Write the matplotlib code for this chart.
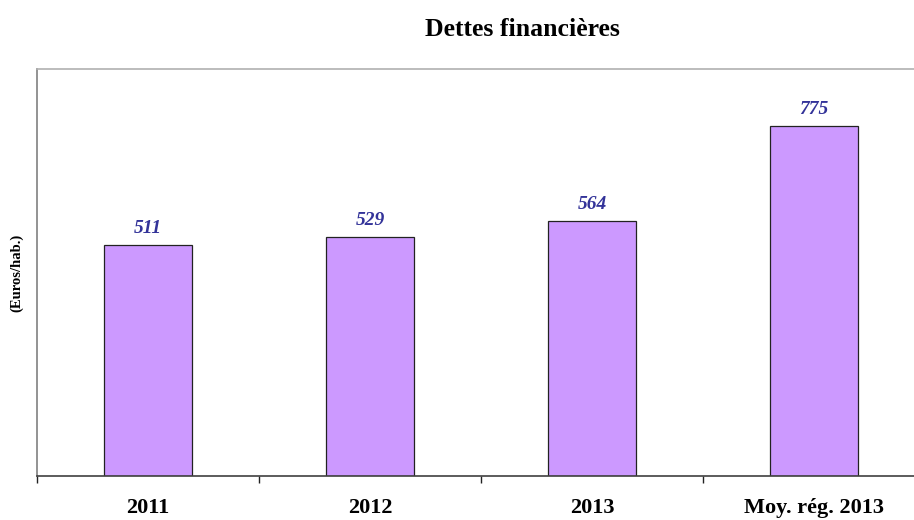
import matplotlib
matplotlib.use("Agg")
import matplotlib.pyplot as plt
import numpy as np

categories = ["2011", "2012", "2013", "Moy. rég. 2013"]
values = [511, 529, 564, 775]

serif = ["Liberation Serif", "DejaVu Serif"]

fig = plt.figure(figsize=(9.14, 5.2), dpi=100)
ax = fig.add_axes([37 / 914, 44 / 520, 888 / 914, 407 / 520])

x = np.arange(len(categories))
ax.bar(x, values, width=0.4, color="#CC99FF", edgecolor="#222222", linewidth=0.9, zorder=2)

for xi, v in zip(x, values):
    ax.text(xi, v + 17, f"{v}", ha="center", va="bottom", fontsize=14,
            fontweight="bold", fontstyle="italic", color="#333399", family=serif)

ax.set_xlim(-0.5, len(categories) - 0.5)
ax.set_ylim(0, 900)

ax.set_xticks(x)
ax.set_xticklabels(categories, fontsize=16, fontweight="bold", family=serif)
ax.set_xticks(np.arange(len(categories) + 1) - 0.5, minor=True)
ax.tick_params(axis="x", which="major", length=0, pad=16)
ax.tick_params(axis="x", which="minor", length=5, width=1, color="#222222", direction="out")
ax.set_yticks([])

ax.spines["left"].set_color("#808080")
ax.spines["left"].set_linewidth(1.2)
ax.spines["top"].set_color("#B0B0B0")
ax.spines["top"].set_linewidth(1.2)
ax.spines["bottom"].set_color("#404040")
ax.spines["bottom"].set_linewidth(1.2)
ax.spines["right"].set_visible(False)

ax.set_ylabel("(Euros/hab.)", fontsize=10.5, fontweight="bold", family=serif, labelpad=10)

fig.text(522 / 914, 1 - 30 / 520, "Dettes financières", ha="center", va="center",
         fontsize=18.5, fontweight="bold", family=serif)

fig.savefig("out.png", dpi=100)
